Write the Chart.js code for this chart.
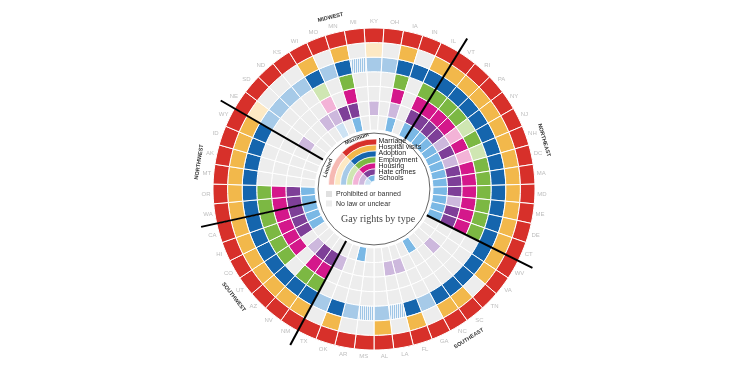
<!DOCTYPE html>
<html><head><meta charset="utf-8">
<script src="https://cdn.jsdelivr.net/npm/chart.js@4"></script>
<style>html,body{margin:0;padding:0;background:#fff;overflow:hidden}</style>
</head><body>
<canvas id="c" width="748" height="382" style="width:748px;height:382px;display:block"></canvas>
<script>
// ---------- DATA ----------
const states = ['KY','OH','IA','IN','IL','VT','RI','PA','NY','NJ','NH','DC','MA','MD','ME','DE','CT',
 'WV','VA','TN','SC','NC','GA','FL','LA','AL','MS','AR','OK','TX','NM','NV','AZ','UT','CO','HI','CA',
 'WA','OR','MT','AK','ID','WY','NE','SD','ND','KS','WI','MO','MN','MI'];
const categories = ['Marriage','Hospital visits','Adoption','Employment','Housing','Hate crimes','Schools'];
// status codes: M = maximum, L = limited, S = limited (varies), P = prohibited or banned, N = no law or unclear
const marriage = ['M','M','M','M','M','M','M','M','M','M','M','M','M','M','M','M','M',
 'M','M','M','M','M','M','M','M','M','M','M','M','M','M','M','M','M','M','M','M',
 'M','M','M','M','M','M','M','M','M','M','M','M','M','M'];
const hospital = ['L','N','M','N','M','M','M','M','M','M','M','M','M','M','M','M','M',
 'M','M','N','M','M','N','M','N','M','N','N','M','N','M','M','M','M','M','M','M',
 'M','M','M','M','M','M','L','N','N','N','M','N','M','N'];
const adoption = ['L','L','M','M','M','M','M','M','M','M','M','M','M','M','M','M','M',
 'M','M','M','M','M','L','M','S','L','S','L','M','L','M','M','M','M','M','M','M',
 'M','M','M','M','M','M','L','L','L','L','M','L','M','S'];
const employment = ['N','N','M','N','M','M','M','M','L','M','L','M','M','M','M','M','M',
 'N','N','N','N','N','N','N','N','N','N','N','N','N','M','M','N','M','M','M','M',
 'M','M','N','N','N','N','N','N','N','N','L','N','M','N'];
const housing = ['N','N','M','N','M','M','M','M','L','M','L','M','M','M','M','M','M',
 'N','N','N','N','N','N','N','N','N','N','N','N','N','M','M','N','M','M','M','M',
 'M','M','N','N','N','N','N','N','N','N','L','N','M','N'];
const hateCrimes = ['L','N','L','N','M','M','M','M','L','M','L','M','M','M','L','M','M',
 'N','N','L','N','N','N','L','L','N','N','N','N','L','M','M','L','N','M','M','M',
 'M','M','N','N','N','N','L','N','N','L','L','M','M','N'];
const schools = ['N','N','M','N','M','M','M','M','M','M','M','M','M','M','M','M','M',
 'N','N','N','N','M','N','N','N','N','N','M','N','N','N','N','N','N','M','M','M',
 'M','M','N','N','N','N','N','N','N','N','L','N','M','N'];
const regionNames = ['MIDWEST','NORTHEAST','SOUTHEAST','SOUTHWEST','NORTHWEST'];
const regionFirstState = ['NE','VT','WV','NM','WA'];   // region boundaries (first state of each region, clockwise)
const legendStatus = ['Prohibited or banned','No law or unclear'];
const title = 'Gay rights by type';

// ---------- STYLE ----------
const fullColors  = ['#d7302a','#f2b84b','#1565ad','#7cb843','#d4188b','#7e3f98','#7ab8e5'];
const tintColors  = ['#f6b9b3','#fde9c4','#a6cae8','#cfe6b2','#f3b3d7','#cdb8dd','#cde3f4'];
const grayP = '#e0e0e0', grayN = '#ededed';

function stripePattern(){
  const c = document.createElement('canvas'); c.width = 2; c.height = 2;
  const x = c.getContext('2d');
  x.fillStyle = '#9fc6e6'; x.fillRect(0,0,1,2);
  x.fillStyle = '#eef4fa'; x.fillRect(1,0,1,2);
  return x.createPattern(c,'repeat');
}
const stripe = stripePattern();
function colorFor(code, k){
  if (code === 'M') return fullColors[k];
  if (code === 'L') return tintColors[k];
  if (code === 'S') return stripe;
  if (code === 'P') return grayP;
  return grayN;
}
const series = [marriage, hospital, adoption, employment, housing, hateCrimes, schools];
const N = states.length;
const step = 360 / N;

const datasets = series.map((arr, k) => ({
  label: categories[k],
  data: states.map(() => 1),
  backgroundColor: arr.map(c => colorFor(c, k)),
  borderColor: '#ffffff',
  borderWidth: 1
}));

const deco = {
  id: 'deco',
  afterDraw(chart){
    const ctx = chart.ctx;
    const arc = chart.getDatasetMeta(0).data[0];
    const cx = arc.x, cy = arc.y;
    const R = arc.outerRadius;
    const innerR = chart.getDatasetMeta(6).data[0].innerRadius;
    const rad = d => (d - 90) * Math.PI / 180;
    ctx.save();
    // inner circle line
    ctx.beginPath(); ctx.arc(cx, cy, innerR - 3, 0, Math.PI*2);
    ctx.strokeStyle = '#555'; ctx.lineWidth = 0.9; ctx.stroke();
    // state labels
    ctx.font = '6px Arial, "Liberation Sans", sans-serif';
    ctx.fillStyle = '#bdbdbd'; ctx.textAlign = 'center'; ctx.textBaseline = 'middle';
    states.forEach((s, i) => {
      const a = rad(i * step);
      ctx.fillText(s, cx + (R + 7) * Math.cos(a), cy + (R + 7) * Math.sin(a));
    });
    // region boundary lines
    ctx.strokeStyle = '#000'; ctx.lineWidth = 2;
    const bAngles = regionFirstState.map(s => states.indexOf(s) * step - step/2);
    bAngles.forEach(d => {
      const a = rad(d);
      ctx.beginPath();
      ctx.moveTo(cx + (innerR) * Math.cos(a), cy + (innerR) * Math.sin(a));
      ctx.lineTo(cx + (R + 16) * Math.cos(a), cy + (R + 16) * Math.sin(a));
      ctx.stroke();
    });
    // region names
    const regionAngles = [-14.2, 74, 147.6, 232.4, 278.8];
    ctx.font = 'bold 5.5px Arial, "Liberation Sans", sans-serif';
    ctx.fillStyle = '#333';
    regionNames.forEach((n, j) => {
      const d = regionAngles[j], a = rad(d);
      const rr = R + 16;
      ctx.save();
      ctx.translate(cx + rr * Math.cos(a), cy + rr * Math.sin(a));
      let rot = d; const dn = ((d % 360) + 360) % 360;
      if (dn > 90 && dn < 270) rot = d - 180;
      ctx.rotate(rot * Math.PI / 180);
      ctx.fillText(n, 0, 0);
      ctx.restore();
    });
    // legend arcs
    const lx = cx + 0.5, ly = cy - 4, lR = 46, lw = 6;
    for (let k = 0; k < 7; k++){
      const ro = lR - k*lw, ri = ro - lw;
      const parts = [[Math.PI, Math.PI*1.25, tintColors[k]], [Math.PI*1.25, Math.PI*1.5 + 0.05, fullColors[k]]];
      parts.forEach(p => {
        ctx.beginPath();
        ctx.arc(lx, ly, ro, p[0], p[1]);
        ctx.arc(lx, ly, ri, p[1], p[0], true);
        ctx.closePath();
        ctx.fillStyle = p[2]; ctx.fill();
        ctx.strokeStyle = '#fff'; ctx.lineWidth = 0.7; ctx.stroke();
      });
    }
    ctx.font = 'bold 5.5px Arial, "Liberation Sans", sans-serif'; ctx.fillStyle = '#333';
    [['Maximum', -21], ['Limited', -70]].forEach(([t, d]) => {
      const a = rad(d);
      ctx.save();
      ctx.translate(lx + (lR + 3.5) * Math.cos(a), ly + (lR + 3.5) * Math.sin(a));
      ctx.rotate(d * Math.PI / 180);
      ctx.fillText(t, 0, 0);
      ctx.restore();
    });
    ctx.font = '7px Arial, "Liberation Sans", sans-serif'; ctx.fillStyle = '#222';
    ctx.textAlign = 'left';
    categories.forEach((c, k) => ctx.fillText(c, lx + 4, 141 + k * 6.2));
    // status legend
    [grayP, grayN].forEach((col, j) => {
      ctx.fillStyle = col; ctx.fillRect(326, 191 + j*9.5, 6, 6);
      ctx.fillStyle = '#333'; ctx.fillText(legendStatus[j], 336, 194.5 + j*9.5);
    });
    ctx.font = '10px "Liberation Serif", "Times New Roman", serif';
    ctx.fillStyle = '#444'; ctx.textAlign = 'center';
    ctx.fillText(title, 378, 219);
    ctx.restore();
  }
};

new Chart(document.getElementById('c'), {
  type: 'doughnut',
  data: { labels: states, datasets },
  options: {
    responsive: false,
    animation: false,
    events: [],
    rotation: -step / 2,
    radius: 161,
    cutout: 69,
    layout: { padding: { top: 0, bottom: 4, left: 0, right: 0 } },
    plugins: { legend: { display: false }, tooltip: { enabled: false } }
  },
  plugins: [deco]
});
</script>
</body></html>
